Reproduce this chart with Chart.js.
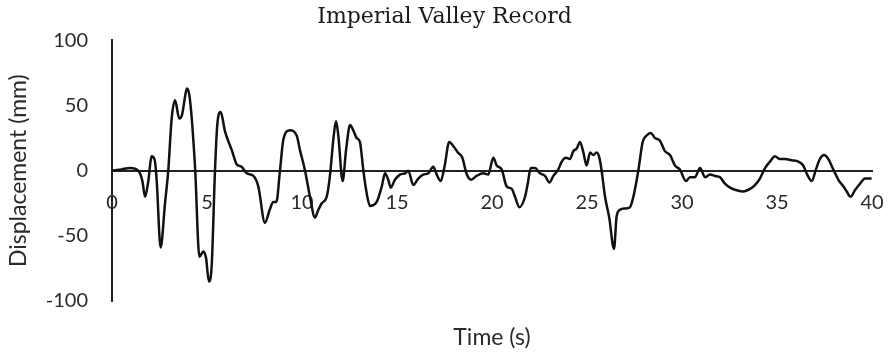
<!DOCTYPE html>
<html>
<head>
<meta charset="utf-8">
<script src="https://cdn.jsdelivr.net/npm/chart.js@4.4.1/dist/chart.umd.min.js"></script>
<style>
    body { margin: 0; background: #ffffff; }
    #wrap { width: 889px; height: 356px; }
</style>
</head>
<body>
<div id="wrap"><canvas id="recordChart" width="889" height="356"></canvas></div>
<script>
// ==================== DATOS ====================
const timeValues = [
    0, 0.5, 0.95, 1.38, 1.6, 1.74, 1.9, 2.09, 2.25, 2.35, 2.56, 2.79, 2.96, 3.14, 3.32, 3.54, 3.67, 3.96, 4.1, 4.37,
    4.6, 4.81, 4.95, 5.1, 5.25, 5.42, 5.54, 5.72, 5.95, 6.3, 6.56, 6.82, 7.09, 7.44, 7.7, 8.05, 8.3, 8.49, 8.65, 8.84,
    9.02, 9.37, 9.72, 9.89, 10.16, 10.42, 10.68, 10.86, 11.04, 11.3, 11.47, 11.65, 11.79, 11.91, 12.14, 12.32, 12.53, 12.7, 12.88, 13.05,
    13.23, 13.4, 13.58, 13.93, 14.2, 14.37, 14.54, 14.67, 14.89, 15.16, 15.42, 15.59, 15.86, 16.12, 16.38, 16.65, 16.91, 17.09, 17.3, 17.5,
    17.75, 17.96, 18.2, 18.44, 18.65, 18.9, 19.19, 19.54, 19.8, 20.07, 20.25, 20.51, 20.77, 21.04, 21.21, 21.44, 21.74, 21.88, 22.04, 22.26,
    22.53, 22.79, 23.02, 23.23, 23.49, 23.67, 23.9, 24.1, 24.28, 24.46, 24.63, 24.81, 24.98, 25.16, 25.33, 25.51, 25.65, 25.77, 25.95, 26.17,
    26.42, 26.56, 26.74, 27.0, 27.26, 27.44, 27.7, 27.93, 28.14, 28.35, 28.58, 28.84, 29.1, 29.37, 29.63, 29.89, 30.21, 30.42, 30.68, 30.95,
    31.21, 31.47, 31.74, 32.0, 32.26, 32.53, 32.88, 33.23, 33.58, 33.84, 34.1, 34.37, 34.63, 34.89, 35.16, 35.42, 35.77, 36.12, 36.38, 36.59,
    36.83, 37.05, 37.26, 37.47, 37.7, 37.96, 38.23, 38.49, 38.67, 38.88, 39.1, 39.37, 39.63, 39.98
];

const displacementValues = [
    0, 1, 2, 0, -8, -20, -9, 11, 8, -7, -59, -25, 0, 40, 54, 40, 42, 63, 55, 3,
    -66, -62, -67, -85, -72, 0, 35, 45, 30, 16, 5, 3, -2, -4, -12, -40, -30, -24, -24, 0,
    24, 31, 27, 16, 0, -20, -36, -30, -25, -20, -4, 24, 38, 27, -8, 16, 35, 31, 25, 22,
    0, -17, -27, -24, -12, -2, -7, -13, -7, -3, -2, 0, -11, -6, -3, -2, 3, -3, -8, 3,
    22, 19, 14, 10, -2, -7, -4, -2, -3, 10, 4, 1, -12, -14, -20, -28, -20, -10, 2, 2,
    -2, -4, -9, -4, 1, 7, 10, 9, 15, 17, 22, 14, 4, 14, 12, 14, 10, 0, -20, -36,
    -60, -35, -30, -29, -28, -20, 0, 22, 27, 29, 25, 23, 15, 12, 4, 1, -8, -5, -5, 2,
    -5, -3, -4, -5, -10, -13, -15, -16, -14, -11, -6, 2, 7, 11, 9, 9, 8, 7, 4, -3,
    -8, 1, 9, 12, 9, 1, -7, -12, -16, -20, -15, -10, -6, -6
];

const xTicks = [0, 5, 10, 15, 20, 25, 30, 35, 40];
const yTicks = [-100, -50, 0, 50, 100];

// ==================== GRÁFICO ====================
const sansFont = "Lato, 'Open Sans', sans-serif";
const textColor = '#2b2b2b';

const points = timeValues.map((t, i) => ({ x: t, y: displacementValues[i] }));

const ctx = document.getElementById('recordChart').getContext('2d');
const recordChart = new Chart(ctx, {
    type: 'line',
    data: {
        datasets: [{
            label: 'Imperial Valley',
            data: points,
            borderColor: '#111111',
            borderWidth: 2.5,
            pointRadius: 0,
            cubicInterpolationMode: 'monotone',
            fill: false
        }]
    },
    options: {
        responsive: false,
        animation: false,
        layout: {
            padding: 0
        },
        plugins: {
            legend: { display: false },
            tooltip: { enabled: false },
            title: {
                display: true,
                text: 'Imperial Valley Record',
                color: '#1a1a1a',
                font: { family: "'DejaVu Serif', serif", size: 22, weight: 'normal' },
                padding: { top: 4, bottom: 10 }
            }
        },
        scales: {
            x: {
                type: 'linear',
                min: xTicks[0],
                max: xTicks[xTicks.length - 1],
                position: { y: 0 },
                afterBuildTicks: scale => { scale.ticks = xTicks.map(v => ({ value: v })); },
                afterFit: scale => {
                    // el eje va sobre la línea de cero: no reserva espacio
                    scale.height = 0;
                    scale.paddingLeft = 0;
                    scale.paddingRight = 0;
                },
                ticks: {
                    padding: 20,
                    color: textColor,
                    font: { family: sansFont, size: 20 },
                    maxRotation: 0
                },
                grid: { display: false, drawTicks: false },
                border: { color: '#222222', width: 2 }
            },
            xTitle: {
                type: 'linear',
                min: 0,
                max: 40,
                position: 'bottom',
                afterFit: scale => { scale.height = 55; },
                ticks: { display: false },
                grid: { display: false, drawTicks: false },
                border: { display: false },
                title: {
                    display: true,
                    text: 'Time (s)',
                    color: textColor,
                    font: { family: sansFont, size: 23 },
                    padding: { top: 0, bottom: 5 }
                }
            },
            y: {
                min: yTicks[0],
                max: yTicks[yTicks.length - 1],
                afterBuildTicks: scale => { scale.ticks = yTicks.map(v => ({ value: v })); },
                afterFit: scale => { scale.width = 112; },
                ticks: {
                    padding: 24,
                    color: textColor,
                    font: { family: sansFont, size: 20 }
                },
                grid: { display: false, drawTicks: false },
                border: { color: '#222222', width: 2 },
                title: {
                    display: true,
                    text: 'Displacement (mm)',
                    color: textColor,
                    font: { family: sansFont, size: 23 },
                    padding: { top: 5, bottom: 0 }
                }
            },
            // margen derecho vacío, así el título queda centrado en todo el ancho
            yRight: {
                position: 'right',
                min: -100,
                max: 100,
                afterFit: scale => { scale.width = 17; },
                ticks: { display: false },
                grid: { display: false, drawTicks: false },
                border: { display: false }
            }
        }
    }
});
</script>
</body>
</html>
